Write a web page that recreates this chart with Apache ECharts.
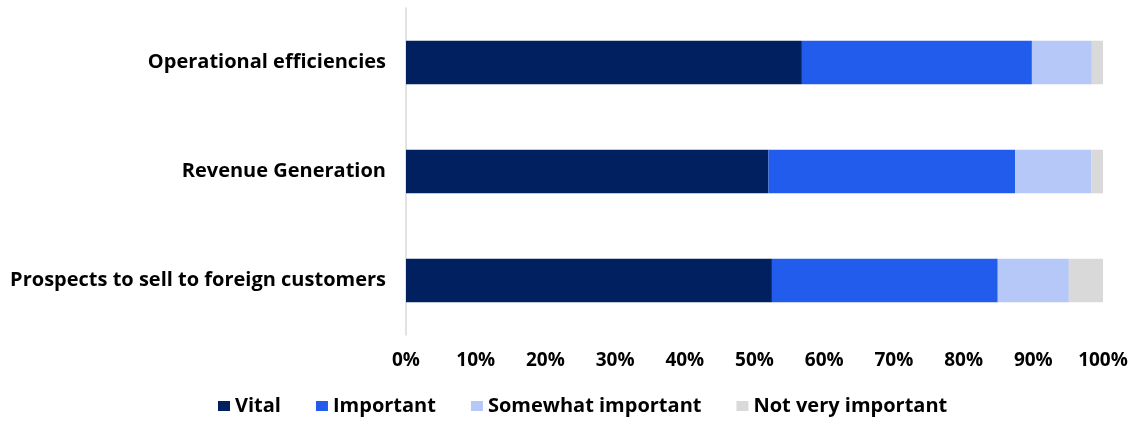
<!DOCTYPE html>
<html>
<head>
<meta charset="utf-8">
<script src="https://cdn.jsdelivr.net/npm/echarts@6/dist/echarts.min.js"></script>
<style>
  html, body { margin: 0; padding: 0; background: #fff; }
  #chart { width: 1135px; height: 424px; }
</style>
</head>
<body>
<div id="chart"></div>
<script>
// Survey drivers, top to bottom
const categories = ['Operational efficiencies', 'Revenue Generation', 'Prospects to sell to foreign customers'];
const vital = [56.8, 52.0, 52.5];
const important = [33.0, 35.4, 32.4];
const somewhatImportant = [8.6, 10.9, 10.2];
const notVeryImportant = [1.6, 1.7, 4.9];
const xTicks = [0, 10, 20, 30, 40, 50, 60, 70, 80, 90, 100];

const FONT = '"Open Sans"';
const chart = echarts.init(document.getElementById('chart'), null, { renderer: 'canvas' });

function barSeries(name, data, color) {
  return {
    name: name,
    type: 'bar',
    stack: 'total',
    data: data,
    barCategoryGap: '60%',
    itemStyle: { color: color },
    emphasis: { disabled: true }
  };
}

chart.setOption({
  animation: false,
  grid: { left: 406, right: 32, top: 8, bottom: 89, containLabel: false },
  legend: {
    bottom: 3,
    left: 213,
    itemWidth: 12,
    itemHeight: 10,
    itemGap: 35,
    icon: 'rect',
    textStyle: { fontFamily: FONT, fontWeight: 'bold', fontSize: 20, color: '#000', padding: [0, 0, 0, 0] },
    data: ['Vital', 'Important', 'Somewhat important', 'Not very important']
  },
  xAxis: {
    type: 'value',
    min: xTicks[0],
    max: xTicks[xTicks.length - 1],
    interval: 10,
    axisLine: { show: false },
    axisTick: { show: false },
    splitLine: { show: false },
    axisLabel: {
      formatter: '{value}%',
      fontFamily: FONT,
      fontWeight: 'bold',
      fontSize: 19,
      color: '#000',
      margin: 16
    }
  },
  yAxis: {
    type: 'category',
    inverse: true,
    data: categories,
    axisLine: { show: true, lineStyle: { color: '#d9d9d9', width: 1.5 } },
    axisTick: { show: false },
    axisLabel: {
      fontFamily: FONT,
      fontWeight: 'bold',
      fontSize: 20,
      color: '#000',
      margin: 20
    }
  },
  series: [
    barSeries('Vital', vital, '#002060'),
    barSeries('Important', important, '#225cec'),
    barSeries('Somewhat important', somewhatImportant, '#b5c8f8'),
    barSeries('Not very important', notVeryImportant, '#d9d9d9')
  ]
});
</script>
</body>
</html>
